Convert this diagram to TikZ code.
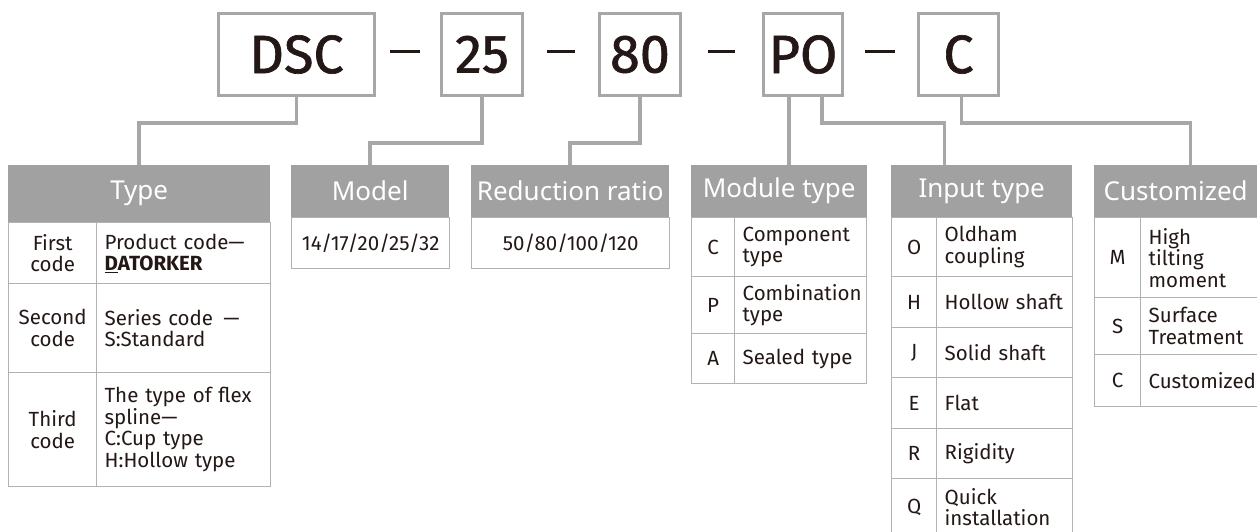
\documentclass[tikz,border=0pt]{standalone}
\usepackage{fontspec}
\newfontfamily\hdfont{Noto Sans}
\newfontfamily\bdfont{Fira Sans}
\newfontfamily\cdfont{Fira Sans}[FakeBold=1.2]
\definecolor{hdgray}{HTML}{A0A1A0}
\definecolor{boxgray}{HTML}{A7A7A7}
\definecolor{cellgray}{HTML}{B2B2B2}
\definecolor{ink}{HTML}{231815}
\tikzset{
  codebox/.style={draw=boxgray,line width=3.5pt,minimum height=82,inner sep=0pt,
    text=ink,font=\cdfont\fontsize{54}{54}\selectfont},
  link/.style={draw=boxgray,line width=3.5pt},
  dashln/.style={draw=ink,line width=2.5pt},
  hdr/.style={fill=hdgray,anchor=north west,minimum height=52,inner sep=0pt,
    text=white,font=\hdfont\fontsize{26}{28}\selectfont},
  cell/.style={draw=cellgray,line width=1.3pt,anchor=north west,inner sep=0pt,
    text=ink,font=\bdfont\fontsize{20.5}{21.5}\selectfont},
  lc/.style 2 args={cell,minimum width=#1,minimum height=#2,text width=#1,align=center},
  rc/.style 2 args={cell,minimum width=#1,minimum height=#2,text width=#1-16,align=left}
}
\begin{document}
\begin{tikzpicture}[x=1pt,y=-1pt]
  \fill[white] (0,0) rectangle (1257,531);
  \useasboundingbox (0,0) rectangle (1257,531);

  % code boxes
  \node[codebox,minimum width=156] (dsc) at (296.5,54.5) {DSC};
  \node[codebox,minimum width=81] (n25) at (482,54.5) {25};
  \node[codebox,minimum width=81] (n80) at (640,54.5) {80};
  \node[codebox,minimum width=79] (po) at (803,54.5) {PO};
  \node[codebox,minimum width=80] (c) at (958.5,54.5) {C};

  \draw[dashln] ([xshift=14,yshift=3]dsc.east) -- ([xshift=-20,yshift=3]n25.west);
  \draw[dashln] ([xshift=23,yshift=3]n25.east) -- ([xshift=-23,yshift=3]n80.west);
  \draw[dashln] ([xshift=26,yshift=3]n80.east) -- ([xshift=-27,yshift=3]po.west);
  \draw[dashln] ([xshift=21,yshift=3]po.east) -- ([xshift=-22,yshift=3]c.west);

  % headers
  \node[hdr,minimum width=262,minimum height=57] (typeh) at (8,165) {Type};
  \node[hdr,minimum width=158] (modelh) at (291,165) {Model};
  \node[hdr,minimum width=198] (ratioh) at (471,165) {Reduction ratio};
  \node[hdr,minimum width=176] (modh) at (691,165) {Module type};
  \node[hdr,minimum width=181] (inh) at (891,165) {Input type};
  \node[hdr,minimum width=163] (cush) at (1094,165) {Customized};

  % connectors
  \draw[link] (dsc.south) -- (dsc.south |- 0,123) -| (typeh.north);
  \draw[link] (n25.south) -- (n25.south |- 0,143) -| (modelh.north);
  \draw[link] (n80.south) -- (n80.south |- 0,143) -| (ratioh.north);
  \draw[link] ([xshift=-14]po.south) -- ([xshift=-14]po.south |- modh.north);
  \draw[link] ([xshift=19]po.south) -- ([xshift=19]po.south |- 0,123) -| ([xshift=-37]inh.north);
  \draw[link] ([xshift=3]c.south) -- ([xshift=3]c.south |- 0,123) -| ([xshift=15]cush.north);

  % Type
  \node[lc={88}{61}] (ty1a) at (8,222) {First\\code};
  \node[rc={174}{61}] (ty1b) at (96,222) {Product code—\\{\bfseries\underline{D}ATORKER}};
  \node[lc={88}{89}] (ty2a) at (8,283) {Second\\code};
  \node[rc={174}{89}] (ty2b) at (96,283) {Series code \,—\\S:Standard};
  \node[lc={88}{114}] (ty3a) at (8,372) {Third\\code};
  \node[rc={174}{114}] (ty3b) at (96,372) {The type of flex\\spline—\\C:Cup type\\H:Hollow type};

  % Model / ratio
  \node[lc={158}{51}] (mo1) at (291,217) {14/17/20/25/32};
  \node[lc={198}{51}] (ra1) at (471,217) {50/80/100/120};

  % Module type
  \node[lc={43}{59}] (md1a) at (691,217) {C};
  \node[rc={132}{59}] (md1b) at (734,217) {Component\\type};
  \node[lc={43}{57}] (md2a) at (691,276) {P};
  \node[rc={132}{57}] (md2b) at (734,276) {Combination\\type};
  \node[lc={43}{50}] (md3a) at (691,333) {A};
  \node[rc={132}{50}] (md3b) at (734,333) {Sealed type};

  % Input type
  \node[lc={45}{59}] (in1a) at (891,217) {O};
  \node[rc={136}{59}] (in1b) at (936,217) {Oldham\\coupling};
  \node[lc={45}{51}] (in2a) at (891,276) {H};
  \node[rc={136}{51}] (in2b) at (936,276) {Hollow shaft};
  \node[lc={45}{50}] (in3a) at (891,327) {J};
  \node[rc={136}{50}] (in3b) at (936,327) {Solid shaft};
  \node[lc={45}{51}] (in4a) at (891,377) {E};
  \node[rc={136}{51}] (in4b) at (936,377) {Flat};
  \node[lc={45}{50}] (in5a) at (891,428) {R};
  \node[rc={136}{50}] (in5b) at (936,428) {Rigidity};
  \node[lc={45}{57}] (in6a) at (891,478) {Q};
  \node[rc={136}{57}] (in6b) at (936,478) {Quick\\installation};

  % Customized
  \node[lc={46}{80}] (cu1a) at (1094,217) {M};
  \node[rc={117}{80}] (cu1b) at (1140,217) {High\\tilting\\moment};
  \node[lc={46}{57}] (cu2a) at (1094,297) {S};
  \node[rc={117}{57}] (cu2b) at (1140,297) {Surface\\Treatment};
  \node[lc={46}{52}] (cu3a) at (1094,354) {C};
  \node[rc={117}{52}] (cu3b) at (1140,354) {Customized};
\end{tikzpicture}
\end{document}
